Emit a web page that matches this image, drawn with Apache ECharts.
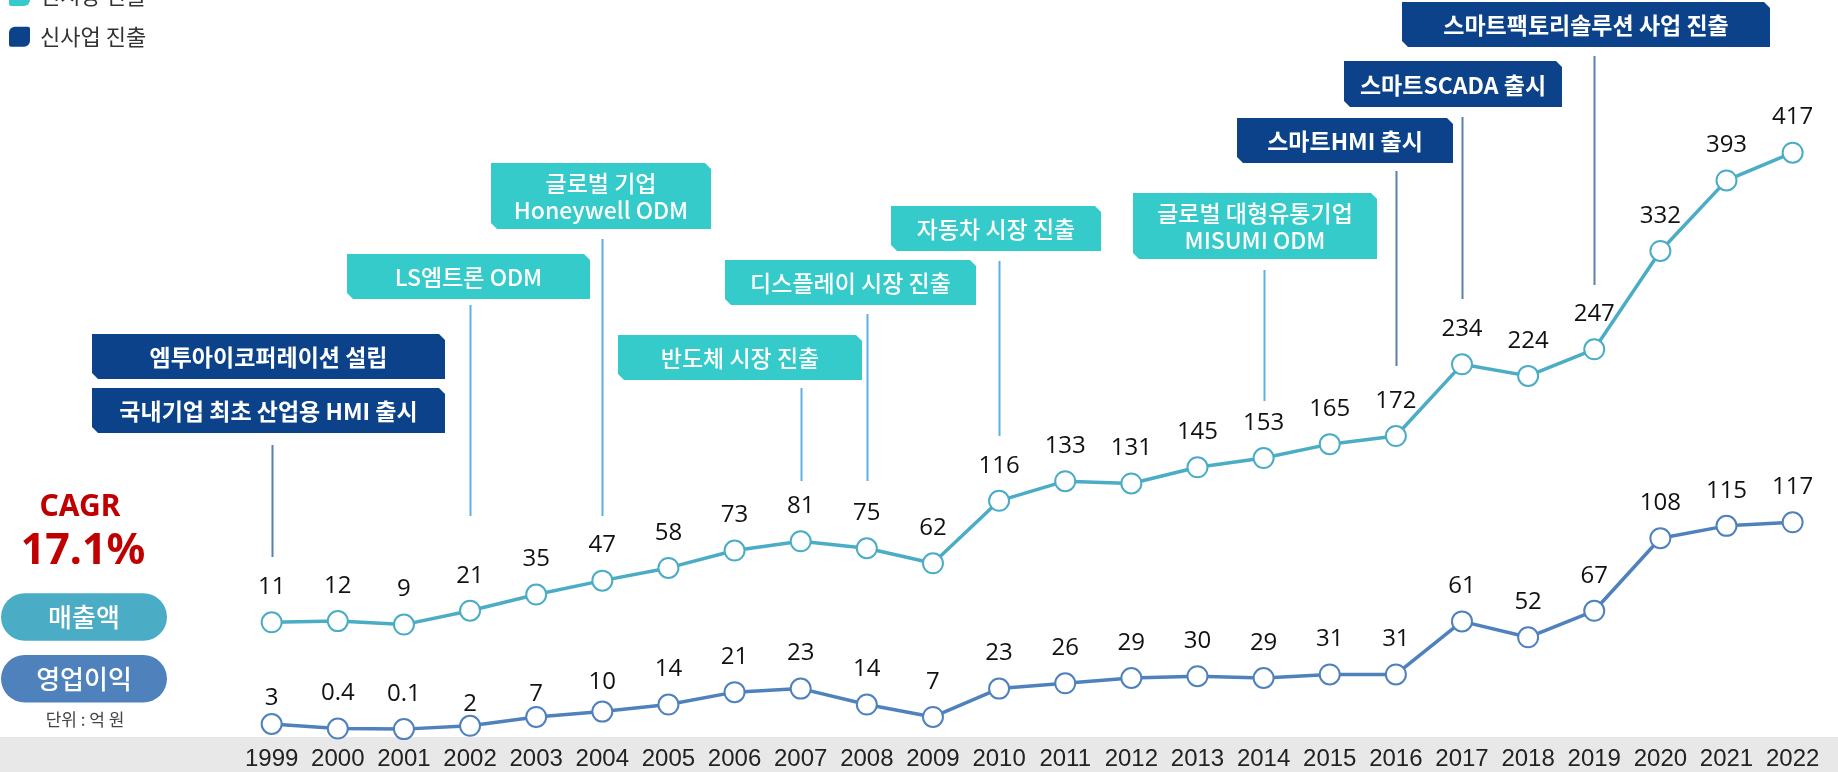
<!DOCTYPE html>
<html><head><meta charset="utf-8">
<script src="https://cdn.jsdelivr.net/npm/echarts@6/dist/echarts.min.js"></script>
<style>html,body{margin:0;padding:0;background:#fff}#c{width:1838px;height:772px}</style>
</head><body><div id="c"></div>
<script>
// ---------- data ----------
const years = ['1999','2000','2001','2002','2003','2004','2005','2006','2007','2008','2009','2010','2011','2012','2013','2014','2015','2016','2017','2018','2019','2020','2021','2022'];
const revenue = [11,12,9,21,35,47,58,73,81,75,62,116,133,131,145,153,165,172,234,224,247,332,393,417];
const profit = [3,0.4,0.1,2,7,10,14,21,23,14,7,23,26,29,30,29,31,31,61,52,67,108,115,117];
const eventYears = ['1999','1999','2002','2004','2007','2008','2010','2014','2016','2017','2019'];
const eventTexts = ['엠투아이코퍼레이션 설립','국내기업 최초 산업용 HMI 출시','LS엠트론 ODM','글로벌 기업\nHoneywell ODM','반도체 시장 진출','디스플레이 시장 진출','자동차 시장 진출','글로벌 대형유통기업\nMISUMI ODM','스마트HMI 출시','스마트SCADA 출시','스마트팩토리솔루션 사업 진출'];
const eventKinds = ['biz','biz','mkt','mkt','mkt','mkt','mkt','mkt','biz','biz','biz'];
const legendLabels = ['신시장 진출','신사업 진출'];
const seriesNames = ['매출액','영업이익'];
const cagrTitle = 'CAGR';
const cagrValue = '17.1%';
const unitText = '단위 : 억 원';

// ---------- layout / style ----------
const TEAL = '#35cbcb', NAVY = '#0b428a';
const REV_C = '#4bacc6', PRO_C = '#4f81bd';
const boxRects = [[92,334,445,379],[92,388,445,433],[347,254,590,299],[491,163,711,229],[618,335,862,380],[725,260,976,305],[891,206,1101,251],[1133,193,1377,259],[1237,118,1453,163],[1344,61,1562,107],[1402,2,1770,47]];
const leaderY = [null,[445,557],[305,516],[239,516],[388,481],[314,481],[261,436],[270,401],[171,366],[117,299],[56,285]];
const profitNudge = {0:9,3:13,4:12,5:6};
const GRID_BOTTOM_PX = 729.3;
const REV_ZERO = 635, REV_SCALE = 1.1567;
const PRO_ZERO = 729.3, PRO_SCALE = 1.769;

const chart = echarts.init(document.getElementById('c'), null, {renderer:'canvas'});
const labelFont = {show:true, position:'top', distance:12, fontSize:24, color:'#111', fontFamily:'Open Sans, Noto Sans, sans-serif'};

chart.setOption({
  animation:false,
  grid:{left:238.6, right:12.3, top:0, bottom:772-GRID_BOTTOM_PX},
  xAxis:{type:'category', data:years, boundaryGap:true,
    axisLine:{show:false}, axisTick:{show:false}, splitLine:{show:false},
    axisLabel:{interval:0, fontSize:24, fontFamily:'Liberation Sans Narrow, Liberation Sans, Arial, sans-serif', color:'#222', margin:18}},
  yAxis:[
    {type:'value', show:false, min:(REV_ZERO-GRID_BOTTOM_PX)/REV_SCALE, max:REV_ZERO/REV_SCALE, splitLine:{show:false}},
    {type:'value', show:false, min:0, max:PRO_ZERO/PRO_SCALE, splitLine:{show:false}}
  ],
  series:[
    {name:seriesNames[0], type:'line', yAxisIndex:0, data:revenue, symbol:'emptyCircle', symbolSize:20,
      lineStyle:{color:REV_C, width:3.5}, itemStyle:{color:REV_C, borderWidth:3.5}, label:labelFont, z:5},
    {name:seriesNames[1], type:'line', yAxisIndex:1,
      data:profit.map((v,i)=> profitNudge[i] ? {value:v, label:{offset:[0,profitNudge[i]]}} : v),
      symbol:'emptyCircle', symbolSize:20,
      lineStyle:{color:PRO_C, width:3.5}, itemStyle:{color:PRO_C, borderWidth:3.5}, label:labelFont, z:5}
  ]
});

// ---------- decorations ----------
const g = [];
g.push({type:'rect', z:-100, shape:{x:0,y:737,width:1838,height:35}, style:{fill:'#e8e8e8'}});
// legend
const legColors = [TEAL, NAVY];
[-4, 36.7].forEach((cy,i)=>{
  g.push({type:'rect', shape:{x:9,y:cy-10,width:21,height:20,r:[6,2,6,2]}, style:{fill:legColors[i]}});
  g.push({type:'text', x:40, y:cy, style:{text:legendLabels[i], fontSize:22, fill:'#333', fontFamily:'Noto Sans CJK KR', verticalAlign:'middle', align:'left'}});
});
// CAGR
g.push({type:'text', x:80, y:507, style:{text:cagrTitle, fontSize:30, fontWeight:'bold', fill:'#c00000', fontFamily:'Noto Sans, sans-serif', align:'center', verticalAlign:'middle'}});
g.push({type:'text', x:83, y:552, style:{text:cagrValue, fontSize:43, fontWeight:'bold', fill:'#c00000', fontFamily:'Noto Sans, sans-serif', align:'center', verticalAlign:'middle'}});
// pills
[[593.3,REV_C],[655,PRO_C]].forEach((p,i)=>{
  g.push({type:'rect', shape:{x:1,y:p[0],width:166,height:47.5,r:23.7}, style:{fill:p[1]}});
  g.push({type:'text', x:84, y:p[0]+24, style:{text:seriesNames[i], fontSize:26, fill:'#fff', fontFamily:'Noto Sans CJK KR', fontWeight:500, align:'center', verticalAlign:'middle'}});
});
g.push({type:'text', x:85, y:720, style:{text:unitText, fontSize:17, fill:'#444', fontFamily:'Noto Sans CJK KR', align:'center', verticalAlign:'middle'}});
// annotation boxes
const C = 6;
eventTexts.forEach((t,i)=>{
  const [x1,y1,x2,y2] = boxRects[i];
  const col = eventKinds[i]==='biz' ? NAVY : TEAL;
  g.push({type:'polygon', shape:{points:[[x1,y1],[x2-C,y1],[x2,y1+C],[x2,y2],[x1+C,y2],[x1,y2-C]]}, style:{fill:col}});
  g.push({type:'text', x:(x1+x2)/2, y:(y1+y2)/2+1, style:{text:t, fontSize:23, lineHeight:27, fill:'#fff', fontFamily:'Noto Sans CJK KR',
    fontWeight: eventKinds[i]==='biz' ? 'bold' : 500, align:'center', verticalAlign:'middle'}});
  if (leaderY[i]) {
    const x = Math.round(chart.convertToPixel({xAxisIndex:0}, eventYears[i])) + 0.5;
    g.push({type:'line', shape:{x1:x,y1:leaderY[i][0],x2:x,y2:leaderY[i][1]},
      style:{stroke: eventKinds[i]==='biz' ? '#5b7fae' : '#5cb0e2', lineWidth:2}});
  }
});
chart.setOption({graphic:{elements:g}});
</script>
</body></html>
